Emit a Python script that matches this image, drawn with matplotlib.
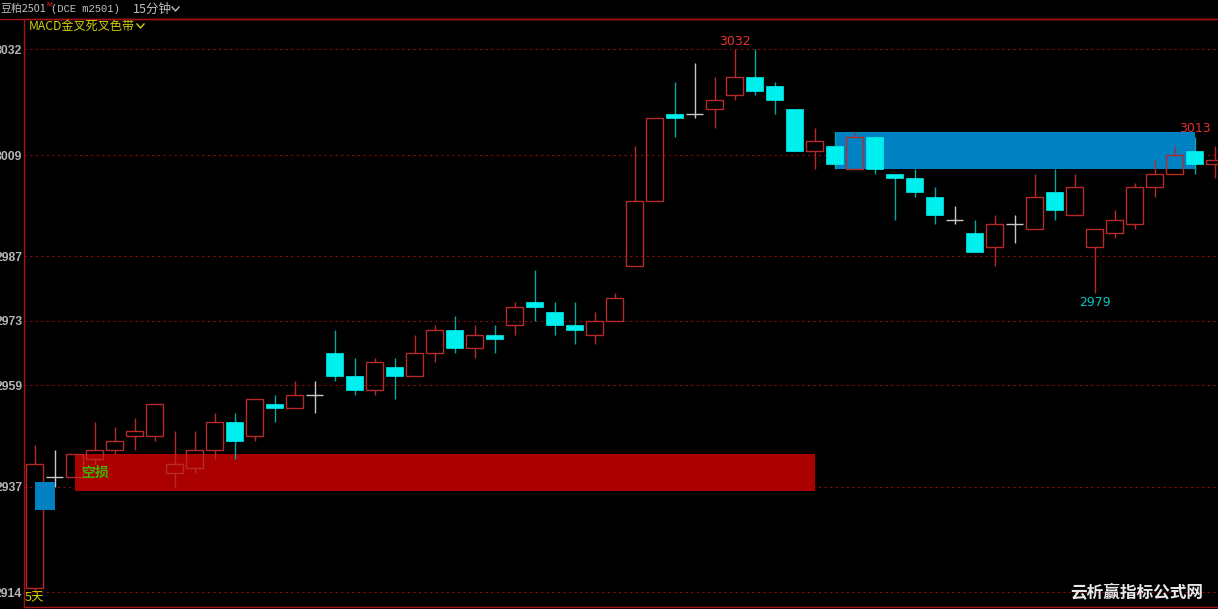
import numpy as np
import matplotlib
matplotlib.use("Agg")
import matplotlib.pyplot as plt
from matplotlib.lines import Line2D

# 豆粕2501 15分钟K线
opens = [2915, 2939, 2939, 2943, 2945, 2948, 2948, 2940, 2941, 2945,
         2951, 2948, 2955, 2954, 2957, 2966, 2961, 2958, 2963, 2961,
         2966, 2971, 2967, 2970, 2972, 2977, 2975, 2972, 2970, 2973,
         2985, 2999, 3018, 3018, 3019, 3022, 3026, 3024, 3019, 3010,
         3011, 3006, 3013, 3005, 3004, 3000, 2995, 2992, 2989, 2994,
         2993, 3001, 2996, 2989, 2992, 2994, 3002, 3005, 3010, 3007]
highs = [2946, 2945, 2944, 2951, 2950, 2952, 2955, 2949, 2949, 2953,
         2953, 2956, 2957, 2960, 2960, 2971, 2965, 2965, 2965, 2970,
         2972, 2974, 2972, 2972, 2977, 2984, 2977, 2977, 2975, 2979,
         3011, 3017, 3025, 3029, 3026, 3032, 3032, 3025, 3019, 3015,
         3014, 3014, 3013, 3005, 3006, 3002, 2998, 2995, 2996, 2996,
         3005, 3006, 3005, 2993, 2997, 3003, 3008, 3011, 3013, 3011]
lows = [2914, 2937, 2939, 2942, 2944, 2945, 2947, 2937, 2940, 2943,
        2943, 2947, 2951, 2954, 2953, 2960, 2957, 2957, 2956, 2961,
        2964, 2966, 2965, 2966, 2970, 2973, 2970, 2968, 2968, 2973,
        2985, 2999, 3013, 3017, 3015, 3021, 3022, 3018, 3010, 3006,
        3006, 3006, 3005, 2995, 3000, 2994, 2994, 2988, 2985, 2990,
        2993, 2995, 2996, 2979, 2991, 2993, 3000, 3005, 3005, 3004]
closes = [2942, 2939, 2944, 2945, 2947, 2949, 2955, 2942, 2945, 2951,
          2947, 2956, 2954, 2957, 2957, 2961, 2958, 2964, 2961, 2966,
          2971, 2967, 2970, 2969, 2976, 2976, 2972, 2971, 2973, 2978,
          2999, 3017, 3017, 3018, 3021, 3026, 3023, 3021, 3010, 3012,
          3007, 3013, 3006, 3004, 3001, 2996, 2995, 2988, 2994, 2994,
          3000, 2997, 3002, 2993, 2995, 3002, 3005, 3009, 3007, 3008]

y_ticks = [2914, 2937, 2959, 2973, 2987, 3009, 3032]

# 色带: (起始K线, 结束K线, 下沿, 上沿)
zone_red = (2, 39, 2936, 2944)
zone_blue = (40, 58, 3006, 3014)
zone_blue_small = (0, 1, 2932, 2938)

mark_high = [35, 58]
mark_low = [53]

W, H = 1218, 609
fig = plt.figure(figsize=(W / 100, H / 100), dpi=100, facecolor="black")
cjk = ["Noto Sans CJK SC", "DejaVu Sans"]


def fx(px):
    return px / W


def fy(py):
    return 1 - py / H


ax = fig.add_axes([fx(24), fy(607), fx(1218 - 24), (607 - 19) / H])
ax.set_facecolor("black")

o = np.array(opens)
h = np.array(highs)
l = np.array(lows)
c = np.array(closes)
x = np.arange(len(o))
w = 0.86

red_edge = "#b82a2a"
cyan = "#00f0f0"
teal = "#00a8a8"
gray = "#c8c8c8"

# 色带
x0, x1, lo, hi = zone_red
ax.fill_between([x0, x1], lo, hi, color="#aa0000", lw=0, zorder=1)
x0, x1, lo, hi = zone_blue
ax.fill_between([x0, x1], lo, hi, color="#0082c2", lw=0, zorder=1)
x0, x1, lo, hi = zone_blue_small
ax.fill_between([x0, x1], lo, hi, color="#0082c2", lw=0, zorder=6)

# 网格
for t in y_ticks:
    ax.axhline(t, color="#8a0c0c", lw=0.8, dashes=(2, 3), zorder=0.5)

up = c > o
down = c < o
flat = c == o
body_lo = np.minimum(o, c)
body_hi = np.maximum(o, c)

# 阳线 空心
ax.vlines(x[up], body_hi[up], h[up], color=red_edge, lw=1, zorder=3)
ax.vlines(x[up], l[up], body_lo[up], color=red_edge, lw=1, zorder=3)
ax.bar(x[up], (c - o)[up], w, bottom=o[up], facecolor="none",
       edgecolor=red_edge, linewidth=1, zorder=3)

# 阴线 实心
ax.vlines(x[down], l[down], h[down], color=teal, lw=1, zorder=3)
ax.bar(x[down], (o - c)[down], w, bottom=c[down], color=cyan,
       edgecolor=cyan, linewidth=0.5, zorder=4)

# 十字星
ax.vlines(x[flat], l[flat], h[flat], color=gray, lw=1, zorder=3)
ax.hlines(o[flat], x[flat] - w / 2, x[flat] + w / 2, color=gray, lw=1, zorder=3)

# 高低点标注
for i in mark_high:
    ax.annotate(str(h[i]), (x[i], h[i]), xytext=(0, 1), textcoords="offset points",
                ha="center", va="bottom", color="#e83030", fontsize=9,
                family="DejaVu Sans")
for i in mark_low:
    ax.annotate(str(l[i]), (x[i], l[i]), xytext=(0, -2), textcoords="offset points",
                ha="center", va="top", color="#00c8c8", fontsize=9,
                family="DejaVu Sans")

ax.text(zone_red[0] + 0.35, (zone_red[2] + zone_red[3]) / 2, "空损", color="#3cb400",
        fontsize=10, fontweight="bold", family=cjk, va="center", ha="left", zorder=5)

ax.set_xlim(-0.525, 59.175)
ax.set_ylim(2910.84, 3038.58)
ax.set_xticks([])
ax.set_yticks(y_ticks)
ax.set_yticklabels([str(t) for t in y_ticks], fontfamily="Liberation Sans",
                   fontweight="bold", fontsize=8.8, color="#b4b4b4")
ax.tick_params(axis="y", length=0, pad=1.2)

for s in ["left", "bottom", "top"]:
    ax.spines[s].set_color("#a01414")
    ax.spines[s].set_linewidth(1)
ax.spines["right"].set_visible(False)

# 顶部标题栏
fig.add_artist(Line2D([0, 1], [fy(19), fy(19)], color="#a01414", lw=1))
fig.text(fx(0), fy(9), "豆粕2501", color="#c0c0c0", fontsize=7.8, family=cjk, va="center")
fig.text(fx(46.5), fy(5), "M", color="#e02020", fontsize=5, family="DejaVu Sans", va="center")
fig.text(fx(51), fy(9), "(DCE m2501)", color="#c0c0c0", fontsize=7.6,
         family="Liberation Mono", va="center")
fig.text(fx(133), fy(9), "15分钟", color="#c0c0c0", fontsize=9, family=cjk, va="center")
fig.add_artist(Line2D([fx(172), fx(175.5), fx(179)], [fy(7), fy(11), fy(7)],
                      color="#c0c0c0", lw=1))

fig.text(fx(29), fy(26), "MACD金叉死叉色带", color="#d2d200", fontsize=8.7, family=cjk, va="center")
fig.add_artist(Line2D([fx(137), fx(140.5), fx(144)], [fy(24), fy(28), fy(24)],
                      color="#d2d200", lw=1))

fig.text(fx(25), fy(598), "5天", color="#d2d200", fontsize=9, family=cjk, va="center")
fig.text(fx(1070), fy(592), "云析赢指标公式网", color="#e8e8e8", fontsize=12,
         fontweight="bold", family=cjk, va="center")

fig.savefig("out.png", dpi=100, facecolor="black")
